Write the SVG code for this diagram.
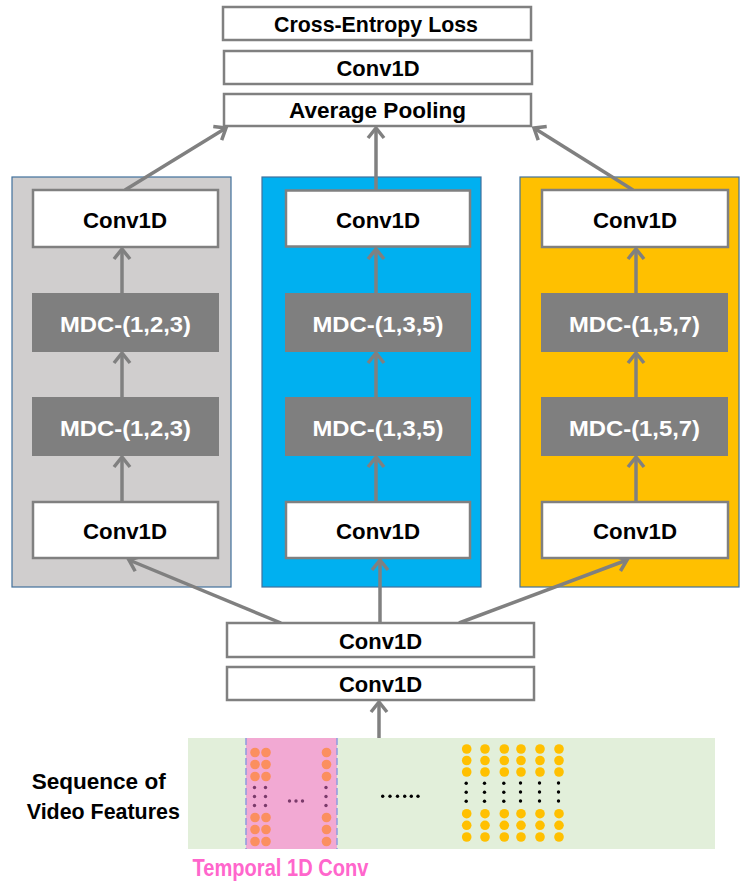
<svg xmlns="http://www.w3.org/2000/svg" width="747" height="892" viewBox="0 0 747 892">
<defs>
<style>
.t{font-family:"Liberation Sans",Arial,sans-serif;font-weight:bold;font-size:22px;text-anchor:middle;fill:#000}
.w{fill:#fff}
.box{fill:#fff;stroke:#808080;stroke-width:2.5}
.mdc{fill:#7f7f7f}
.panel{stroke:#41719c;stroke-width:1.2}
.ln{stroke:#808080;stroke-width:3.5;fill:none;marker-end:url(#ah)}
.od{fill:#fb8f5f}
.yd{fill:#ffc000}
.sd{fill:#7a3a6a}
.bd{fill:#000}
</style>
<marker id="ah" markerUnits="userSpaceOnUse" markerWidth="30" markerHeight="30" refX="13" refY="12" orient="auto" overflow="visible">
<path d="M3,4 L13,12 L3,20" fill="none" stroke="#808080" stroke-width="3.5"/>
</marker>
</defs>

<g id="panel-left">
<rect class="panel" x="12" y="177" width="219" height="410" fill="#d0cece"/>
</g>
<g id="panel-middle">
<rect class="panel" x="262" y="177" width="219" height="410" fill="#00b0f0"/>
</g>
<g id="panel-right">
<rect class="panel" x="520" y="177" width="219" height="410" fill="#ffc000"/>
</g>

<g id="connectors">
<line class="ln" x1="125" y1="190" x2="226" y2="128"/>
<line class="ln" x1="376" y1="190" x2="376" y2="128"/>
<line class="ln" x1="633" y1="190" x2="534" y2="128"/>
<line class="ln" x1="122" y1="293" x2="122" y2="249"/>
<line class="ln" x1="122" y1="397" x2="122" y2="353"/>
<line class="ln" x1="122" y1="502" x2="122" y2="457"/>
<line class="ln" x1="376" y1="293" x2="376" y2="249"/>
<line class="ln" x1="376" y1="397" x2="376" y2="353"/>
<line class="ln" x1="376" y1="502" x2="376" y2="457"/>
<line class="ln" x1="636" y1="293" x2="636" y2="249"/>
<line class="ln" x1="636" y1="397" x2="636" y2="353"/>
<line class="ln" x1="636" y1="502" x2="636" y2="457"/>
<line class="ln" x1="281" y1="623" x2="129" y2="560"/>
<line class="ln" x1="380" y1="623" x2="380" y2="560"/>
<line class="ln" x1="459" y1="623" x2="627" y2="560"/>
<line class="ln" x1="379" y1="738" x2="379" y2="702"/>
</g>

<g id="loss">
<rect class="box" x="223" y="7" width="308" height="33"/>
<text class="t" x="376" y="32" textLength="204" lengthAdjust="spacingAndGlyphs">Cross-Entropy Loss</text>
</g>
<g id="conv-top">
<rect class="box" x="224" y="51" width="308" height="33"/>
<text class="t" x="378" y="76" textLength="83" lengthAdjust="spacingAndGlyphs">Conv1D</text>
</g>
<g id="avgpool">
<rect class="box" x="224" y="94" width="307" height="32"/>
<text class="t" x="377.5" y="118" textLength="177" lengthAdjust="spacingAndGlyphs">Average Pooling</text>
</g>

<g id="left-conv-top">
<rect class="box" x="33" y="190" width="185" height="57"/>
<text class="t" x="125" y="228" textLength="84" lengthAdjust="spacingAndGlyphs">Conv1D</text>
</g>
<g id="left-mdc-1">
<rect class="mdc" x="32" y="293" width="187" height="59"/>
<text class="t w" x="125.5" y="332" textLength="131" lengthAdjust="spacingAndGlyphs">MDC-(1,2,3)</text>
</g>
<g id="left-mdc-2">
<rect class="mdc" x="32" y="397" width="187" height="59"/>
<text class="t w" x="125.5" y="436" textLength="131" lengthAdjust="spacingAndGlyphs">MDC-(1,2,3)</text>
</g>
<g id="left-conv-bottom">
<rect class="box" x="33" y="502" width="185" height="56"/>
<text class="t" x="125" y="539" textLength="84" lengthAdjust="spacingAndGlyphs">Conv1D</text>
</g>

<g id="mid-conv-top">
<rect class="box" x="286" y="190.5" width="184" height="56"/>
<text class="t" x="378" y="228" textLength="84" lengthAdjust="spacingAndGlyphs">Conv1D</text>
</g>
<g id="mid-mdc-1">
<rect class="mdc" x="285" y="293" width="186" height="59"/>
<text class="t w" x="378" y="332" textLength="131" lengthAdjust="spacingAndGlyphs">MDC-(1,3,5)</text>
</g>
<g id="mid-mdc-2">
<rect class="mdc" x="285" y="397" width="186" height="59"/>
<text class="t w" x="378" y="436" textLength="131" lengthAdjust="spacingAndGlyphs">MDC-(1,3,5)</text>
</g>
<g id="mid-conv-bottom">
<rect class="box" x="286" y="502" width="184" height="56"/>
<text class="t" x="378" y="539" textLength="84" lengthAdjust="spacingAndGlyphs">Conv1D</text>
</g>

<g id="right-conv-top">
<rect class="box" x="542" y="190" width="186" height="57"/>
<text class="t" x="635" y="228" textLength="84" lengthAdjust="spacingAndGlyphs">Conv1D</text>
</g>
<g id="right-mdc-1">
<rect class="mdc" x="541" y="293" width="187" height="59"/>
<text class="t w" x="634.5" y="332" textLength="131" lengthAdjust="spacingAndGlyphs">MDC-(1,5,7)</text>
</g>
<g id="right-mdc-2">
<rect class="mdc" x="541" y="397" width="187" height="59"/>
<text class="t w" x="634.5" y="436" textLength="131" lengthAdjust="spacingAndGlyphs">MDC-(1,5,7)</text>
</g>
<g id="right-conv-bottom">
<rect class="box" x="542" y="502" width="186" height="56"/>
<text class="t" x="635" y="539" textLength="84" lengthAdjust="spacingAndGlyphs">Conv1D</text>
</g>

<g id="conv-low-1">
<rect class="box" x="227" y="623" width="307" height="34"/>
<text class="t" x="380.5" y="649" textLength="83" lengthAdjust="spacingAndGlyphs">Conv1D</text>
</g>
<g id="conv-low-2">
<rect class="box" x="227" y="667" width="307" height="33"/>
<text class="t" x="380.5" y="692" textLength="83" lengthAdjust="spacingAndGlyphs">Conv1D</text>
</g>

<g id="sequence">
<rect x="188" y="738" width="527" height="111" fill="#e2efda"/>
<rect x="246" y="738" width="91" height="111" fill="#f2a9d3"/>
<line x1="246" y1="738" x2="246" y2="849" stroke="#8e9be0" stroke-width="1.5" stroke-dasharray="7,3"/>
<line x1="337" y1="738" x2="337" y2="849" stroke="#8e9be0" stroke-width="1.5" stroke-dasharray="7,3"/>
<g class="od">
<circle cx="255" cy="752.5" r="4.8"/><circle cx="266" cy="752.5" r="4.8"/><circle cx="326.5" cy="752.5" r="4.8"/>
<circle cx="255" cy="764.5" r="4.8"/><circle cx="266" cy="764.5" r="4.8"/><circle cx="326.5" cy="764.5" r="4.8"/>
<circle cx="255" cy="776.5" r="4.8"/><circle cx="266" cy="776.5" r="4.8"/><circle cx="326.5" cy="776.5" r="4.8"/>
<circle cx="255" cy="817.5" r="4.8"/><circle cx="266" cy="817.5" r="4.8"/><circle cx="326.5" cy="817.5" r="4.8"/>
<circle cx="255" cy="829.5" r="4.8"/><circle cx="266" cy="829.5" r="4.8"/><circle cx="326.5" cy="829.5" r="4.8"/>
<circle cx="255" cy="841.5" r="4.8"/><circle cx="266" cy="841.5" r="4.8"/><circle cx="326.5" cy="841.5" r="4.8"/>
</g>
<g class="sd">
<circle cx="254.5" cy="787.5" r="1.7"/><circle cx="265.5" cy="787.5" r="1.7"/><circle cx="326" cy="787.5" r="1.7"/>
<circle cx="254.5" cy="796.5" r="1.7"/><circle cx="265.5" cy="796.5" r="1.7"/><circle cx="326" cy="796.5" r="1.7"/>
<circle cx="254.5" cy="805.5" r="1.7"/><circle cx="265.5" cy="805.5" r="1.7"/><circle cx="326" cy="805.5" r="1.7"/>
<circle cx="289.5" cy="801" r="1.7"/><circle cx="296" cy="801" r="1.7"/><circle cx="302.5" cy="801" r="1.7"/>
</g>
<g class="bd">
<circle cx="382.7" cy="796.3" r="1.7"/><circle cx="390" cy="796.3" r="1.7"/><circle cx="397.5" cy="796.3" r="1.7"/>
<circle cx="404.7" cy="796.3" r="1.7"/><circle cx="411.3" cy="796.3" r="1.7"/><circle cx="418" cy="796.3" r="1.7"/>
</g>
<g class="yd">
<circle cx="466.7" cy="749" r="4.8"/><circle cx="485" cy="749" r="4.8"/><circle cx="504.3" cy="749" r="4.8"/><circle cx="521" cy="749" r="4.8"/><circle cx="540" cy="749" r="4.8"/><circle cx="559" cy="749" r="4.8"/>
<circle cx="466.7" cy="760.5" r="4.8"/><circle cx="485" cy="760.5" r="4.8"/><circle cx="504.3" cy="760.5" r="4.8"/><circle cx="521" cy="760.5" r="4.8"/><circle cx="540" cy="760.5" r="4.8"/><circle cx="559" cy="760.5" r="4.8"/>
<circle cx="466.7" cy="772" r="4.8"/><circle cx="485" cy="772" r="4.8"/><circle cx="504.3" cy="772" r="4.8"/><circle cx="521" cy="772" r="4.8"/><circle cx="540" cy="772" r="4.8"/><circle cx="559" cy="772" r="4.8"/>
<circle cx="466.7" cy="813.7" r="4.8"/><circle cx="485" cy="813.7" r="4.8"/><circle cx="504.3" cy="813.7" r="4.8"/><circle cx="521" cy="813.7" r="4.8"/><circle cx="540" cy="813.7" r="4.8"/><circle cx="559" cy="813.7" r="4.8"/>
<circle cx="466.7" cy="825.3" r="4.8"/><circle cx="485" cy="825.3" r="4.8"/><circle cx="504.3" cy="825.3" r="4.8"/><circle cx="521" cy="825.3" r="4.8"/><circle cx="540" cy="825.3" r="4.8"/><circle cx="559" cy="825.3" r="4.8"/>
<circle cx="466.7" cy="837" r="4.8"/><circle cx="485" cy="837" r="4.8"/><circle cx="504.3" cy="837" r="4.8"/><circle cx="521" cy="837" r="4.8"/><circle cx="540" cy="837" r="4.8"/><circle cx="559" cy="837" r="4.8"/>
</g>
<g class="bd">
<circle cx="466.2" cy="783.3" r="1.7"/><circle cx="484.5" cy="783.3" r="1.7"/><circle cx="503.8" cy="783.3" r="1.7"/><circle cx="520.5" cy="783" r="1.7"/><circle cx="539.5" cy="783" r="1.7"/><circle cx="558.5" cy="783" r="1.7"/>
<circle cx="466.2" cy="792.3" r="1.7"/><circle cx="484.5" cy="792.3" r="1.7"/><circle cx="503.8" cy="792.3" r="1.7"/><circle cx="520.5" cy="792" r="1.7"/><circle cx="539.5" cy="792" r="1.7"/><circle cx="558.5" cy="792" r="1.7"/>
<circle cx="466.2" cy="801.3" r="1.7"/><circle cx="484.5" cy="801.3" r="1.7"/><circle cx="503.8" cy="801.3" r="1.7"/><circle cx="520.5" cy="801" r="1.7"/><circle cx="539.5" cy="801" r="1.7"/><circle cx="558.5" cy="801" r="1.7"/>
</g>
</g>

<g id="labels">
<text class="t" x="98.7" y="789" textLength="134" lengthAdjust="spacingAndGlyphs">Sequence of</text>
<text class="t" x="103.3" y="819" textLength="153" lengthAdjust="spacingAndGlyphs">Video Features</text>
<text class="t" x="192.5" y="876" style="text-anchor:start;fill:#ff66cc;font-size:23px" textLength="176" lengthAdjust="spacingAndGlyphs">Temporal 1D Conv</text>
</g>
</svg>
